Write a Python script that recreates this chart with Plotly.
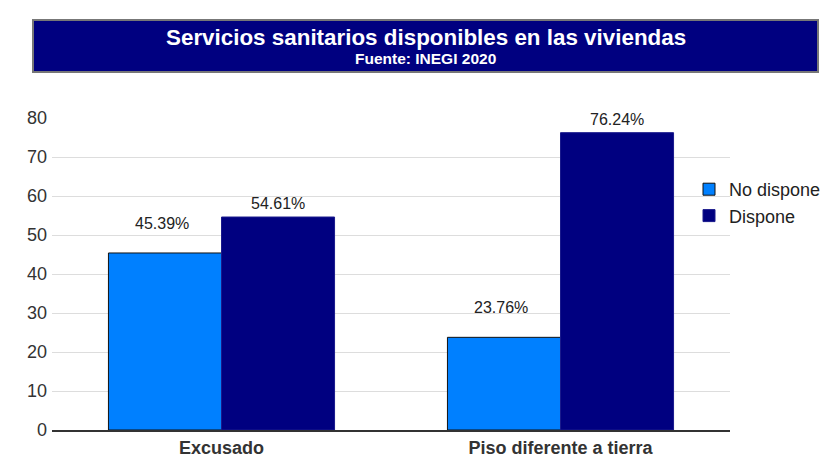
import plotly.graph_objects as go

categories = ["Excusado", "Piso diferente a tierra"]
no_dispone = [45.39, 23.76]
dispone = [54.61, 76.24]
series_names = ["No dispone", "Dispone"]
y_ticks = [0, 10, 20, 30, 40, 50, 60, 70, 80]

W, H = 832, 464
ML, MR, MT, MB = 52, 102, 118, 34
pw = W - ML - MR
ph = H - MT - MB

def px_x(x):
    return (x - ML) / pw

def px_y(y):
    return (H - MB - y) / ph

FONT = "Liberation Sans, Arial"

fig = go.Figure()
fig.add_trace(go.Bar(x=categories, y=no_dispone, name=series_names[0],
                     marker=dict(color="#0080FF", line=dict(color="#111111", width=1))))
fig.add_trace(go.Bar(x=categories, y=dispone, name=series_names[1],
                     marker=dict(color="#000080", line=dict(color="#1a1a8c", width=1))))

ann = []
for i, c in enumerate(categories):
    ann.append(dict(x=c, y=no_dispone[i], xref="x", yref="y", text=f"{no_dispone[i]:.2f}%",
                    showarrow=False, xshift=-60, yshift=19, yanchor="bottom",
                    font=dict(size=16, color="#222222", family=FONT)))
    ann.append(dict(x=c, y=dispone[i], xref="x", yref="y", text=f"{dispone[i]:.2f}%",
                    showarrow=False, xshift=56, yshift=3, yanchor="bottom",
                    font=dict(size=16, color="#222222", family=FONT)))

ann.append(dict(x=px_x(425.5), y=px_y(37), xref="paper", yref="paper",
                text="<b>Servicios sanitarios disponibles en las viviendas</b>",
                showarrow=False, xanchor="center", yanchor="middle",
                font=dict(size=22.4, color="white", family=FONT)))
ann.append(dict(x=px_x(425.5), y=px_y(58), xref="paper", yref="paper",
                text="<b>Fuente: INEGI 2020</b>",
                showarrow=False, xanchor="center", yanchor="middle",
                font=dict(size=15.5, color="white", family=FONT)))

shapes = [dict(type="rect", xref="paper", yref="paper",
               x0=px_x(33), x1=px_x(818), y0=px_y(72), y1=px_y(20),
               fillcolor="#000080", line=dict(color="#777777", width=2), layer="above")]

fig.update_layout(
    width=W, height=H,
    margin=dict(l=ML, r=MR, t=MT, b=MB, autoexpand=False),
    paper_bgcolor="white", plot_bgcolor="white",
    barmode="group", bargap=0.333, bargroupgap=0,
    font=dict(family=FONT, color="#333333", size=18),
    showlegend=True,
    legend=dict(x=px_x(689), y=px_y(171), xanchor="left", yanchor="top",
                bgcolor="rgba(0,0,0,0)", font=dict(size=18, color="#222222"),
                tracegroupgap=0),
    annotations=ann,
    shapes=shapes,
)
fig.update_yaxes(range=[0, 80], tickvals=y_ticks, showgrid=True, gridcolor="#dddddd",
                 gridwidth=1, zeroline=False, showline=False, ticks="", ticklabelstandoff=4,
                 tickfont=dict(size=18, color="#333333"), automargin=False)
fig.update_xaxes(showline=True, linecolor="#333333", linewidth=2, ticks="",
                 tickfont=dict(size=18, color="#333333", family=FONT), automargin=False,
                 tickvals=categories, ticktext=[f"<b>{c}</b>" for c in categories])

fig.write_html("out.html", config={"displayModeBar": False},
               post_script="document.body.style.margin='0';")
